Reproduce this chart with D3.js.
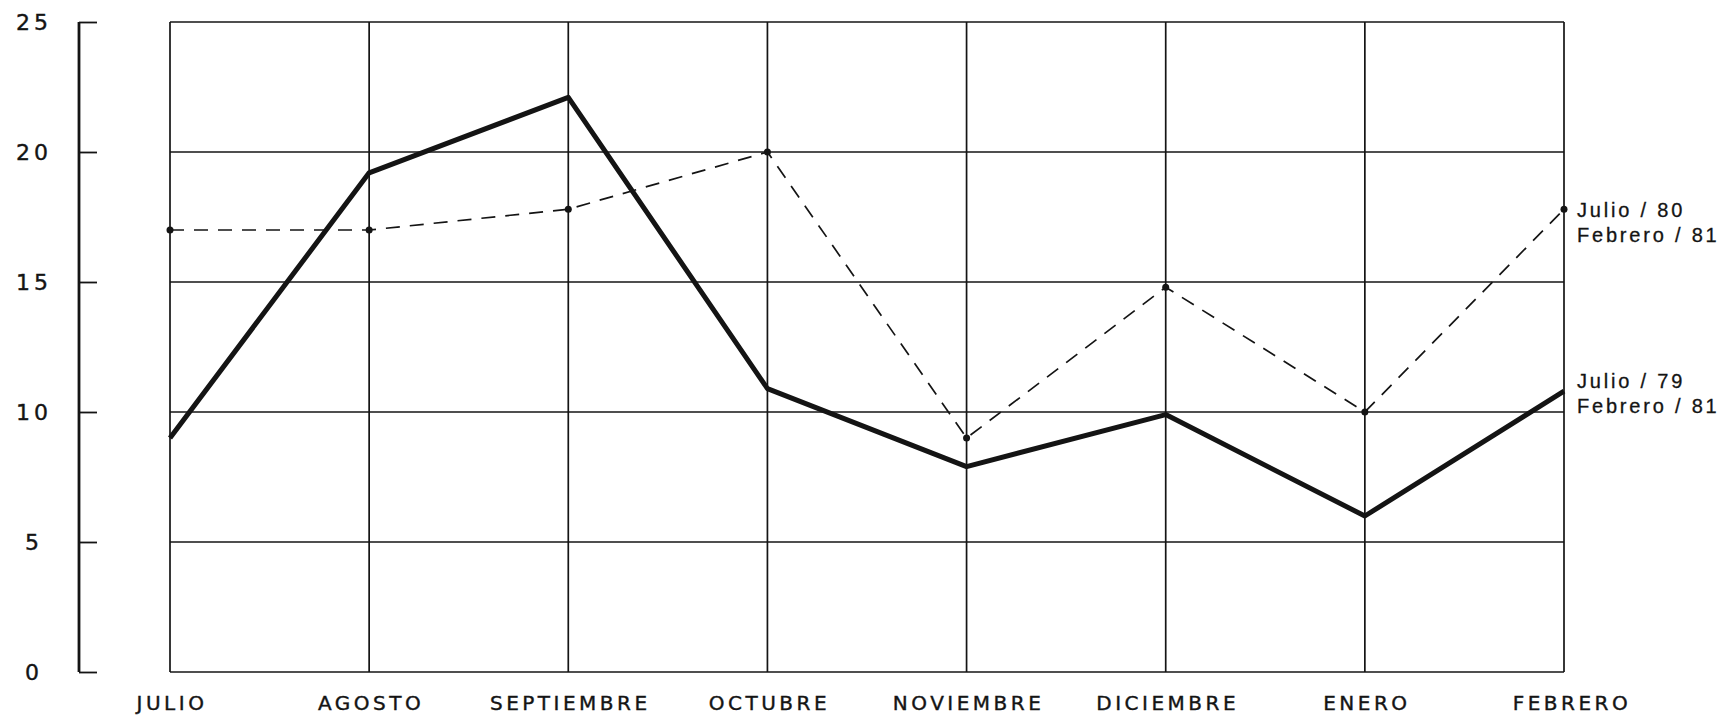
<!DOCTYPE html>
<html>
<head>
<meta charset="utf-8">
<script src="https://cdn.jsdelivr.net/npm/d3@7"></script>
<style>
  html, body { margin: 0; padding: 0; background: #fff; }
  svg { display: block; }
</style>
</head>
<body>
<svg id="chart" width="1722" height="716"></svg>
<script>
// Months on the horizontal axis
const months = ["JULIO", "AGOSTO", "SEPTIEMBRE", "OCTUBRE", "NOVIEMBRE", "DICIEMBRE", "ENERO", "FEBRERO"];
// Series: Julio/79 – Febrero/81 (solid) and Julio/80 – Febrero/81 (dashed)
const serie79 = [9, 19.2, 22.1, 10.9, 7.9, 9.9, 6, 10.8];
const serie80 = [17, 17, 17.8, 20, 9, 14.8, 10, 17.8];
const yTicks = [0, 5, 10, 15, 20, 25];
const label79 = ["Julio / 79", "Febrero / 81"];
const label80 = ["Julio / 80", "Febrero / 81"];

const svg = d3.select("#chart");
const ink = "#141414";

const x = d3.scalePoint().domain(months).range([170, 1564]);
const y = d3.scaleLinear().domain([0, 25]).range([672, 22]);

// Grid: horizontal rules at every tick, vertical rules at every month
const grid = svg.append("g").attr("stroke", ink).attr("stroke-width", 1.7);
grid.selectAll("line.h").data(yTicks).join("line")
  .attr("x1", x(months[0])).attr("x2", x(months[months.length - 1]))
  .attr("y1", d => y(d)).attr("y2", d => y(d));
grid.selectAll("line.v").data(months).join("line")
  .attr("x1", d => x(d)).attr("x2", d => x(d))
  .attr("y1", y(25)).attr("y2", y(0));

// Separate left axis with short ticks
const yAxis = d3.axisRight(y).tickValues(yTicks).tickSize(18).tickFormat("");
const ax = svg.append("g").attr("transform", "translate(79,0)").call(yAxis);
ax.select(".domain").attr("stroke", ink).attr("stroke-width", 2.8).attr("d", `M0,${y(25)}V${y(0)}`);
ax.selectAll(".tick line").attr("stroke", ink).attr("stroke-width", 1.8);

svg.append("g").selectAll("text").data(yTicks).join("text")
  .attr("x", 34).attr("y", d => y(d) + 8)
  .attr("text-anchor", "middle")
  .attr("font-family", "DejaVu Sans")
  .attr("font-size", 22)
  .attr("letter-spacing", 4)
  .attr("fill", ink)
  .attr("stroke", ink).attr("stroke-width", 0.4)
  .text(d => d);

// Month labels
svg.append("g").selectAll("text").data(months).join("text")
  .attr("x", (d, i) => x(d) + (i === months.length - 1 ? 8 : 2))
  .attr("y", 710)
  .attr("text-anchor", "middle")
  .attr("font-family", "DejaVu Sans")
  .attr("font-size", 20)
  .attr("letter-spacing", 3.5)
  .attr("fill", ink)
  .attr("stroke", ink).attr("stroke-width", 0.4)
  .text(d => d);

const line = d3.line().x((d, i) => x(months[i])).y(d => y(d));

// Dashed series with point markers
svg.append("path").datum(serie80)
  .attr("d", line).attr("fill", "none")
  .attr("stroke", ink).attr("stroke-width", 1.7)
  .attr("stroke-dasharray", "14,10");
svg.append("g").selectAll("circle").data(serie80).join("circle")
  .attr("cx", (d, i) => x(months[i])).attr("cy", d => y(d))
  .attr("r", 3.5).attr("fill", ink);

// Solid series
svg.append("path").datum(serie79)
  .attr("d", line).attr("fill", "none")
  .attr("stroke", ink).attr("stroke-width", 5)
  .attr("stroke-linejoin", "round");

// End-of-line labels
function endLabel(lines, value, dy) {
  const t = svg.append("text")
    .attr("font-family", "Liberation Sans, Arial")
    .attr("font-size", 20)
    .attr("letter-spacing", 2.8)
    .attr("fill", ink)
    .attr("stroke", ink).attr("stroke-width", 0.3);
  lines.forEach((s, i) => {
    t.append("tspan")
      .attr("x", x(months[months.length - 1]) + 13)
      .attr("y", y(value) + dy + i * 25)
      .text(s);
  });
}
endLabel(label80, serie80[serie80.length - 1], 8);
endLabel(label79, serie79[serie79.length - 1], -3);
</script>
</body>
</html>
